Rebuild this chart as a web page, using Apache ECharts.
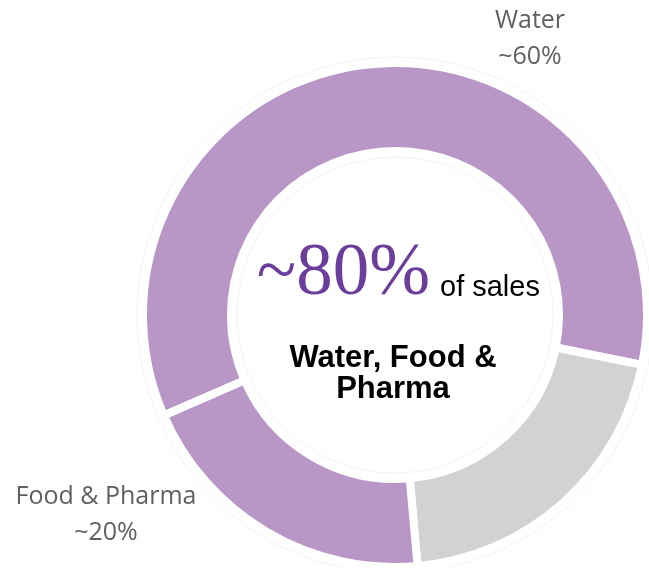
<!DOCTYPE html>
<html>
<head>
<meta charset="utf-8">
<script src="https://cdn.jsdelivr.net/npm/echarts@6/dist/echarts.min.js"></script>
<style>
html, body { margin: 0; padding: 0; background: #fff; }
#main { width: 649px; height: 568px; }
</style>
</head>
<body>
<div id="main"></div>
<script>
// 数据
var segments = ['Water', 'Other', 'Food & Pharma'];
var shares = [59.7, 20.4, 19.9];
var segmentLabels = ['Water\n~60%', '', 'Food & Pharma\n~20%'];
var headline = '~80%';
var headlineSuffix = 'of sales';
var headlineCaption = 'Water, Food &\nPharma';

var colors = ['#b896c6', '#d1d3d2', '#b896c6'];
var cx = 395, cy = 315;

var myChart = echarts.init(document.getElementById('main'));

var option = {
    animation: false,
    series: [
        {
            type: 'pie',
            center: [cx, cy],
            radius: [164, 252],
            startAngle: 203.5,
            silent: true,
            label: { show: false },
            labelLine: { show: false },
            itemStyle: {
                borderColor: '#fff',
                borderWidth: 8
            },
            data: segments.map(function(name, i) {
                return { name: name, value: shares[i], itemStyle: { color: colors[i] } };
            })
        }
    ],
    graphic: [
        // faint outlines
        { type: 'circle', shape: { cx: cx, cy: cy, r: 258 }, style: { fill: 'none', stroke: '#f0f3f4', lineWidth: 1 }, silent: true },
        { type: 'circle', shape: { cx: cx, cy: cy, r: 158 }, style: { fill: 'none', stroke: '#f0f3f4', lineWidth: 1 }, silent: true },
        {
            type: 'text', x: 530, y: 39,
            style: {
                text: segmentLabels[0], fill: '#5f6061',
                font: '25px "Open Sans"', lineHeight: 36,
                align: 'center', verticalAlign: 'middle'
            }
        },
        {
            type: 'text', x: 106, y: 515,
            style: {
                text: segmentLabels[2], fill: '#5f6061',
                font: '25px "Open Sans"', lineHeight: 36,
                align: 'center', verticalAlign: 'middle'
            }
        },
        {
            type: 'text', x: 430, y: 275,
            style: {
                text: headline, fill: '#6b3e9c',
                font: '73px "Liberation Serif"',
                align: 'right', verticalAlign: 'middle'
            }
        },
        {
            type: 'text', x: 440, y: 288,
            style: {
                text: headlineSuffix, fill: '#000',
                font: '29px "Liberation Sans"',
                align: 'left', verticalAlign: 'middle'
            }
        },
        {
            type: 'text', x: 393, y: 374,
            style: {
                text: headlineCaption, fill: '#000',
                font: 'bold 31px "Liberation Sans"', lineHeight: 31,
                align: 'center', verticalAlign: 'middle'
            }
        }
    ]
};

myChart.setOption(option);
</script>
</body>
</html>
